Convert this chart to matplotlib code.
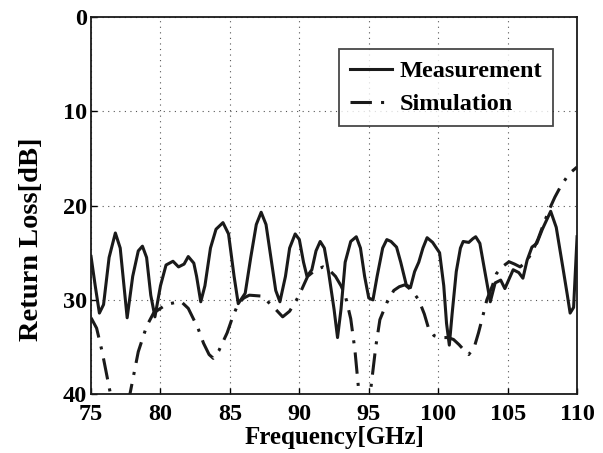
import numpy as np
import matplotlib
matplotlib.use("Agg")
import matplotlib.pyplot as plt

# Measurement (frequency GHz, return loss dB)
meas_f = [75.0, 75.3, 75.6, 75.9, 76.3, 76.75, 77.1, 77.6, 78.0, 78.4, 78.7, 79.0, 79.3, 79.6,
          80.0, 80.4, 80.9, 81.3, 81.7, 82.0, 82.4, 82.6, 82.9, 83.2, 83.6, 84.0, 84.5, 84.9,
          85.3, 85.6, 86.1, 86.5, 86.9, 87.25, 87.6, 88.0, 88.3, 88.6, 89.0, 89.3, 89.7, 90.0,
          90.3, 90.55, 90.9, 91.2, 91.5, 91.8, 92.1, 92.5, 92.75, 93.0, 93.3, 93.7, 94.1, 94.4,
          94.7, 95.0, 95.3, 95.6, 96.0, 96.3, 96.6, 97.0, 97.3, 97.7, 98.0, 98.3, 98.6, 98.9,
          99.2, 99.6, 100.1, 100.4, 100.6, 100.8, 101.0, 101.3, 101.6, 101.8, 102.2, 102.5,
          102.7, 103.0, 103.3, 103.75, 104.1, 104.5, 104.8, 105.1, 105.4, 105.8, 106.1, 106.4,
          106.75, 107.1, 107.5, 108.1, 108.5, 108.97, 109.3, 109.5, 109.75, 110.0]
meas_rl = [25.4, 28.5, 31.4, 30.5, 25.5, 22.9, 24.5, 31.9, 27.5, 24.8, 24.3, 25.5, 29.5, 31.8,
           28.5, 26.3, 25.9, 26.5, 26.2, 25.4, 26.1, 27.5, 30.2, 28.5, 24.5, 22.5, 21.8, 23.0,
           27.5, 30.4, 29.3, 25.5, 22.0, 20.7, 22.0, 26.0, 29.0, 30.2, 27.5, 24.5, 23.0, 23.6,
           26.0, 27.5, 26.8, 24.8, 23.8, 24.5, 27.0, 31.0, 34.0, 31.0, 26.0, 23.8, 23.3, 24.5,
           27.5, 29.8, 30.0, 27.5, 24.5, 23.6, 23.8, 24.4, 26.0, 28.4, 28.7, 27.0, 26.0, 24.5,
           23.4, 23.9, 25.0, 28.5, 32.5, 34.8, 31.5, 27.0, 24.5, 23.8, 23.9, 23.5, 23.3, 24.0,
           26.5, 30.2, 28.2, 27.9, 28.8, 27.8, 26.8, 27.1, 27.7, 25.8, 24.4, 24.0, 22.5, 20.6,
           22.3, 26.5, 29.5, 31.4, 30.8, 23.3]

# Simulation
sim_f = [75.0, 75.4, 75.8, 76.2, 76.6, 77.0, 77.4, 77.8, 78.4, 79.0, 79.5, 80.0, 80.4, 81.0,
         81.5, 82.0, 82.3, 82.7, 83.1, 83.5, 83.8, 84.2, 84.8, 85.2, 85.6, 86.0, 86.4, 87.3,
         88.1, 88.8, 89.3, 89.8, 90.2, 90.6, 91.1, 91.7, 92.2, 92.6, 93.0, 93.3, 93.7, 94.0,
         94.3, 94.7, 95.1, 95.5, 95.8, 96.3, 96.8, 97.2, 97.6, 98.1, 98.6, 99.0, 99.3, 99.7,
         100.1, 100.7, 101.1, 101.5, 101.9, 102.2, 102.6, 102.9, 103.2, 103.5, 103.9, 104.2,
         104.6, 105.1, 105.5, 105.9, 106.3, 106.75, 107.2, 107.6, 108.0, 108.4, 108.8, 109.25,
         109.6, 110.0]
sim_rl = [31.9, 33.0, 35.5, 38.5, 41.5, 43.0, 42.0, 40.0, 35.5, 32.8, 31.4, 30.9, 30.5, 30.3,
          30.2, 30.9, 31.8, 33.0, 34.6, 35.8, 36.2, 35.4, 33.5, 31.8, 30.4, 29.8, 29.5, 29.6,
          30.7, 31.8, 31.2, 30.0, 28.8, 27.5, 26.9, 26.5, 26.9, 27.5, 28.5, 29.5, 32.0, 35.3,
          40.0, 43.5, 40.0, 35.0, 32.1, 30.3, 29.0, 28.6, 28.4, 29.0, 30.0, 31.5, 33.0, 33.8,
          34.0, 34.0, 34.2, 34.75, 35.4, 35.8, 35.0, 33.5, 31.8, 30.0, 28.5, 27.2, 26.5, 25.95,
          26.2, 26.5, 26.0, 25.0, 23.5, 21.9, 20.4, 19.1, 18.0, 17.0, 16.4, 15.9]

x_ticks = [75, 80, 85, 90, 95, 100, 105, 110]
y_ticks = [0, 10, 20, 30, 40]

plt.rcParams['font.family'] = ['Liberation Serif', 'DejaVu Serif']
plt.rcParams['font.weight'] = 'bold'

fig = plt.figure(figsize=(6.03, 4.53), dpi=100)
ax = fig.add_axes([0.151, 0.130, 0.806, 0.832])

ax.plot(meas_f, meas_rl, color='#1a1a1a', lw=2.2, label='Measurement')
ax.plot(sim_f, sim_rl, color='#1a1a1a', lw=2.2, linestyle=(0, (7, 3, 1, 3)), label='Simulation')

ax.set_xlim(75, 110)
ax.set_ylim(40, 0)
ax.set_xticks(x_ticks)
ax.set_yticks(y_ticks)
ax.tick_params(direction='in', length=4, width=1, labelsize=17.5)
ax.tick_params(axis='x', pad=7)
ax.tick_params(axis='y', pad=3)
for lab in ax.get_xticklabels() + ax.get_yticklabels():
    lab.set_fontweight('bold')
ax.grid(True, linestyle=(0, (1, 4)), color='#555555', lw=0.8)
for s in ax.spines.values():
    s.set_linewidth(1.3)
    s.set_color('#1a1a1a')

ax.set_xlabel('Frequency[GHz]', fontsize=18, fontweight='bold', labelpad=1)
ax.set_ylabel('Return Loss[dB]', fontsize=20.5, fontweight='bold')
ax.yaxis.set_label_coords(-0.097, 0.41)

leg = ax.legend(loc='upper right', bbox_to_anchor=(0.9506, 0.915), borderaxespad=0,
                fontsize=17.5, frameon=True,
                fancybox=False, edgecolor='#1a1a1a', handlelength=1.75, borderpad=0.45,
                labelspacing=0.45, handletextpad=0.3)
leg.get_frame().set_linewidth(1.3)
for t in leg.get_texts():
    t.set_fontweight('bold')

fig.savefig('out.png', dpi=100)
